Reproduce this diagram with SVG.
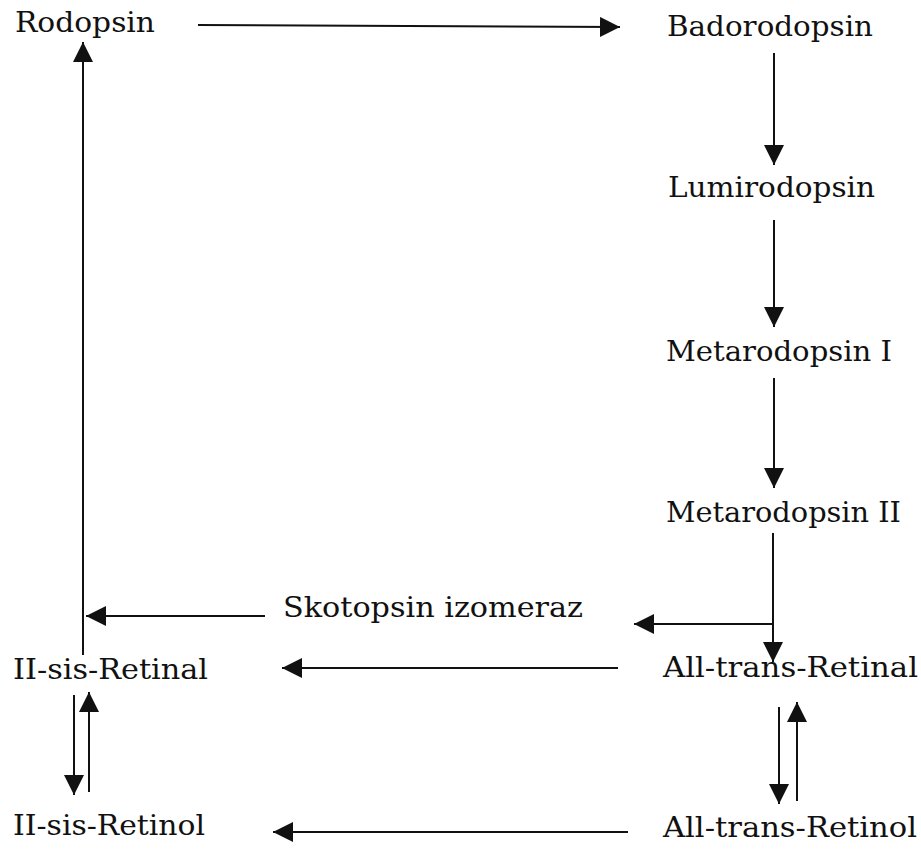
<svg xmlns="http://www.w3.org/2000/svg" width="921" height="854" viewBox="0 0 921 854">
<style>
text{font-family:"DejaVu Serif","Liberation Serif",serif;font-size:28px;fill:#111;}
.c line{stroke:#111;stroke-width:2;fill:none;}
</style>
<defs>
<marker id="ah" viewBox="0 0 20 20" refX="20" refY="10" markerWidth="20" markerHeight="20" markerUnits="userSpaceOnUse" orient="auto">
<path d="M0,0 L20,10 L0,20 Z" fill="#111"/>
</marker>
</defs>
<rect width="921" height="854" fill="#fff"/>
<g id="rodopsin"><text x="15" y="32" textLength="140" lengthAdjust="spacingAndGlyphs">Rodopsin</text></g>
<g id="badorodopsin"><text x="667" y="36" textLength="206" lengthAdjust="spacingAndGlyphs">Badorodopsin</text></g>
<g id="lumirodopsin"><text x="668" y="197" textLength="207" lengthAdjust="spacingAndGlyphs">Lumirodopsin</text></g>
<g id="metarodopsin1"><text x="666" y="361" textLength="226" lengthAdjust="spacingAndGlyphs">Metarodopsin I</text></g>
<g id="metarodopsin2"><text x="666" y="522" textLength="235" lengthAdjust="spacingAndGlyphs">Metarodopsin II</text></g>
<g id="skotopsin"><text x="283" y="617" textLength="300" lengthAdjust="spacingAndGlyphs">Skotopsin izomeraz</text></g>
<g id="sis-retinal"><text x="13" y="679" textLength="195" lengthAdjust="spacingAndGlyphs">II-sis-Retinal</text></g>
<g id="trans-retinal"><text x="663" y="677" textLength="255" lengthAdjust="spacingAndGlyphs">All-trans-Retinal</text></g>
<g id="sis-retinol"><text x="13" y="835" textLength="192" lengthAdjust="spacingAndGlyphs">II-sis-Retinol</text></g>
<g id="trans-retinol"><text x="663" y="837" textLength="254" lengthAdjust="spacingAndGlyphs">All-trans-Retinol</text></g>
<g class="c" id="connectors">
<line x1="198" y1="25" x2="620" y2="27" marker-end="url(#ah)"/>
<line x1="774" y1="53" x2="774" y2="165" marker-end="url(#ah)"/>
<line x1="774" y1="220" x2="774" y2="327" marker-end="url(#ah)"/>
<line x1="774" y1="378" x2="774" y2="488" marker-end="url(#ah)"/>
<line x1="773" y1="533" x2="773" y2="662" marker-end="url(#ah)"/>
<line x1="773" y1="624" x2="634" y2="624" marker-end="url(#ah)"/>
<line x1="265" y1="616" x2="86" y2="616" marker-end="url(#ah)"/>
<line x1="83" y1="655" x2="83" y2="42" marker-end="url(#ah)"/>
<line x1="618" y1="668" x2="282" y2="668" marker-end="url(#ah)"/>
<line x1="628" y1="832" x2="273" y2="832" marker-end="url(#ah)"/>
<line x1="74" y1="695" x2="74" y2="795" marker-end="url(#ah)"/>
<line x1="89" y1="792" x2="89" y2="692" marker-end="url(#ah)"/>
<line x1="779" y1="707" x2="779" y2="804" marker-end="url(#ah)"/>
<line x1="797" y1="801" x2="797" y2="702" marker-end="url(#ah)"/>
</g>
</svg>
